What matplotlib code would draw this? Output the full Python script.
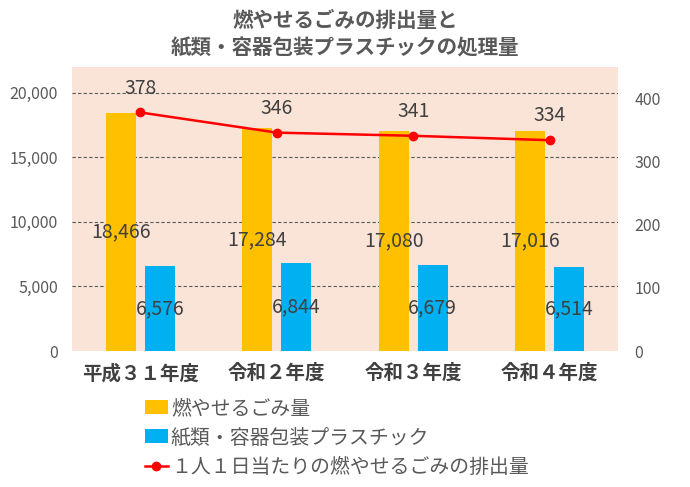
import matplotlib
matplotlib.use("Agg")
import matplotlib.pyplot as plt
import numpy as np

plt.rcParams['font.family'] = ['Noto Sans CJK JP', 'DejaVu Sans']

categories = ["平成３１年度", "令和２年度", "令和３年度", "令和４年度"]
burnable = [18466, 17284, 17080, 17016]
plastic = [6576, 6844, 6679, 6514]
per_person = [378, 346, 341, 334]

title = "燃やせるごみの排出量と\n紙類・容器包装プラスチックの処理量"
legend_labels = ["燃やせるごみ量", "紙類・容器包装プラスチック", "１人１日当たりの燃やせるごみの排出量"]

c_orange = "#FFC000"
c_blue = "#00B0F0"
c_red = "#FF0000"
c_bg = "#FAE4D8"
c_text = "#595959"
c_label = "#404040"

fig = plt.figure(figsize=(6.9, 4.87), dpi=100)
ax = fig.add_axes([72/690, 1-351/487, 546/690, 284/487])
ax.set_facecolor(c_bg)
ax2 = ax.twinx()

x = np.arange(len(categories))
w = 0.22
off = 0.143
b1 = ax.bar(x - off, burnable, w, color=c_orange, zorder=3, label=legend_labels[0])
b2 = ax.bar(x + off, plastic, w, color=c_blue, zorder=3, label=legend_labels[1])

for xi, v in zip(x - off, burnable):
    ax.text(xi, v / 2, f"{v:,}", ha="center", va="center", fontsize=14, color=c_label, zorder=5)
for xi, v in zip(x + off, plastic):
    ax.text(xi, v / 2, f"{v:,}", ha="center", va="center", fontsize=14, color=c_label, zorder=5)

ln, = ax2.plot(x, per_person, color=c_red, lw=1.8, marker="o", ms=6, zorder=6, label=legend_labels[2])
for xi, v in zip(x, per_person):
    ax2.annotate(str(v), (xi, v), xytext=(0, 10), textcoords="offset points",
                 ha="center", va="bottom", fontsize=14, color=c_label)

ax.set_xlim(-0.5, len(categories) - 0.5)
ax.set_ylim(0, 22000)
ax.set_yticks([0, 5000, 10000, 15000, 20000])
ax.set_yticklabels([f"{t:,}" for t in [0, 5000, 10000, 15000, 20000]])
ax2.set_ylim(0, 450)
ax2.set_yticks([0, 100, 200, 300, 400])

for t in [5000, 10000, 15000, 20000]:
    ax.axhline(t, color="#595959", lw=0.8, ls=(0, (3, 2)), zorder=1)

ax.set_xticks(x)
ax.set_xticklabels(categories, fontsize=14, color=c_label, fontweight="bold")
ax.tick_params(axis="x", length=0, pad=9)
ax.tick_params(axis="y", length=0, labelsize=11.5, labelcolor=c_text, pad=10)
ax2.tick_params(axis="y", length=0, labelsize=11.5, labelcolor=c_text, pad=12)

for a in (ax, ax2):
    for s in a.spines.values():
        s.set_visible(False)

fig.text(0.5, 1 - 34/487, title, ha="center", va="center", fontsize=14.8,
         fontweight="bold", color=c_text, linespacing=1.4)

fig.legend(handles=[b1, b2, ln], labels=legend_labels, loc="upper left",
           bbox_to_anchor=(145/690, 1 - 398/487), frameon=False, fontsize=14.3,
           labelcolor=c_text, handlelength=1.15, handletextpad=0.15,
           labelspacing=0.42, borderpad=0, borderaxespad=0)

fig.savefig("out.png", dpi=100)
